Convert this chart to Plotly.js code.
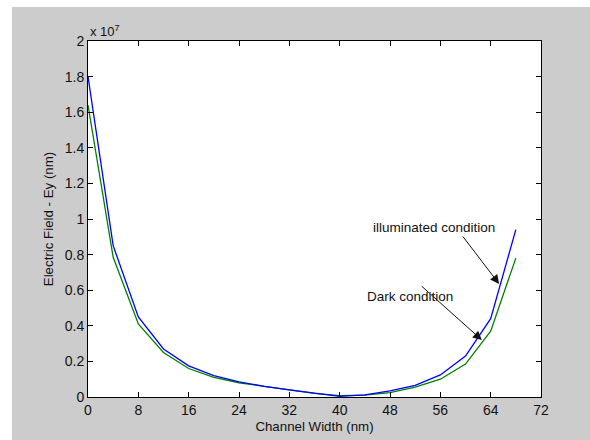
<!DOCTYPE html>
<html>
<head>
<meta charset="utf-8">
<script src="https://cdn.plot.ly/plotly-3.0.1.min.js"></script>
<style>
html,body{margin:0;padding:0;background:#ffffff;width:590px;height:440px;overflow:hidden;}
#chart{position:absolute;left:12px;top:7px;width:578px;height:433px;}
</style>
</head>
<body>
<div id="chart"></div>
<script>
// Channel width (nm)
const channelWidth = [0, 4, 8, 12, 16, 20, 24, 28, 32, 36, 40, 44, 48, 52, 56, 60, 64, 68];
// Electric field Ey, in units of 1e7
const illuminated = [1.80, 0.85, 0.45, 0.27, 0.175, 0.12, 0.085, 0.06, 0.04, 0.02, 0.004, 0.012, 0.035, 0.065, 0.124, 0.23, 0.44, 0.94];
const dark        = [1.64, 0.785, 0.41, 0.25, 0.16, 0.11, 0.08, 0.06, 0.04, 0.02, 0.008, 0.01, 0.025, 0.055, 0.10, 0.185, 0.37, 0.78];
const xTicks = [0, 8, 16, 24, 32, 40, 48, 56, 64, 72];
const yTicks = [0, 0.2, 0.4, 0.6, 0.8, 1, 1.2, 1.4, 1.6, 1.8, 2];
const yTickText = ['0', '0.2', '0.4', '0.6', '0.8', '1', '1.2', '1.4', '1.6', '1.8', '2'];

const font = {family: 'Liberation Sans, Arial, sans-serif', color: '#111111'};

const traces = [
  {x: channelWidth, y: dark, mode: 'lines', line: {color: '#008000', width: 1.3}, name: 'Dark condition', hoverinfo: 'skip'},
  {x: channelWidth, y: illuminated, mode: 'lines', line: {color: '#0000ff', width: 1.3}, name: 'Illuminated condition', hoverinfo: 'skip'}
];

const axisCommon = {
  showgrid: false, zeroline: false, showline: true, mirror: 'ticks',
  linecolor: '#000000', linewidth: 1, ticks: 'inside', ticklen: 5, tickcolor: '#000000',
  tickfont: Object.assign({size: 14}, font)
};

const layout = {
  width: 578, height: 433,
  paper_bgcolor: '#cccccc', plot_bgcolor: '#ffffff',
  margin: {l: 76, r: 49, t: 34, b: 43, pad: 0},
  showlegend: false,
  xaxis: Object.assign({}, axisCommon, {
    range: [0, 72], tickvals: xTicks, ticktext: xTicks.map(String),
    title: {text: 'Channel Width (nm)', font: Object.assign({size: 13.3}, font), standoff: 4}
  }),
  yaxis: Object.assign({}, axisCommon, {
    range: [0, 2], tickvals: yTicks, ticktext: yTickText,
    title: {text: 'Electric Field - Ey (nm)', font: Object.assign({size: 13.3}, font), standoff: 8}
  }),
  annotations: [
    {xref: 'paper', yref: 'paper', x: 0, y: 1, xanchor: 'left', yanchor: 'bottom', yshift: 0,
     text: 'x 10<sup>7</sup>', showarrow: false, font: Object.assign({size: 13}, font)},
    {xref: 'x', yref: 'y', x: 55.0, y: 0.955, text: 'illuminated condition', showarrow: false,
     font: Object.assign({size: 13.5}, font)},
    {xref: 'x', yref: 'y', x: 51.2, y: 0.567, text: 'Dark condition', showarrow: false,
     font: Object.assign({size: 13.5}, font)},
    {xref: 'x', yref: 'y', axref: 'x', ayref: 'y', x: 65.35, y: 0.635, ax: 59.4, ay: 0.91,
     text: '', showarrow: true, arrowhead: 2, arrowsize: 1.8, arrowwidth: 1, arrowcolor: '#111111', standoff: 0},
    {xref: 'x', yref: 'y', axref: 'x', ayref: 'y', x: 62.6, y: 0.32, ax: 52.8, ay: 0.63,
     text: '', showarrow: true, arrowhead: 2, arrowsize: 1.8, arrowwidth: 1, arrowcolor: '#111111', standoff: 0}
  ]
};

Plotly.newPlot('chart', traces, layout, {displayModeBar: false, staticPlot: true});
</script>
</body>
</html>
